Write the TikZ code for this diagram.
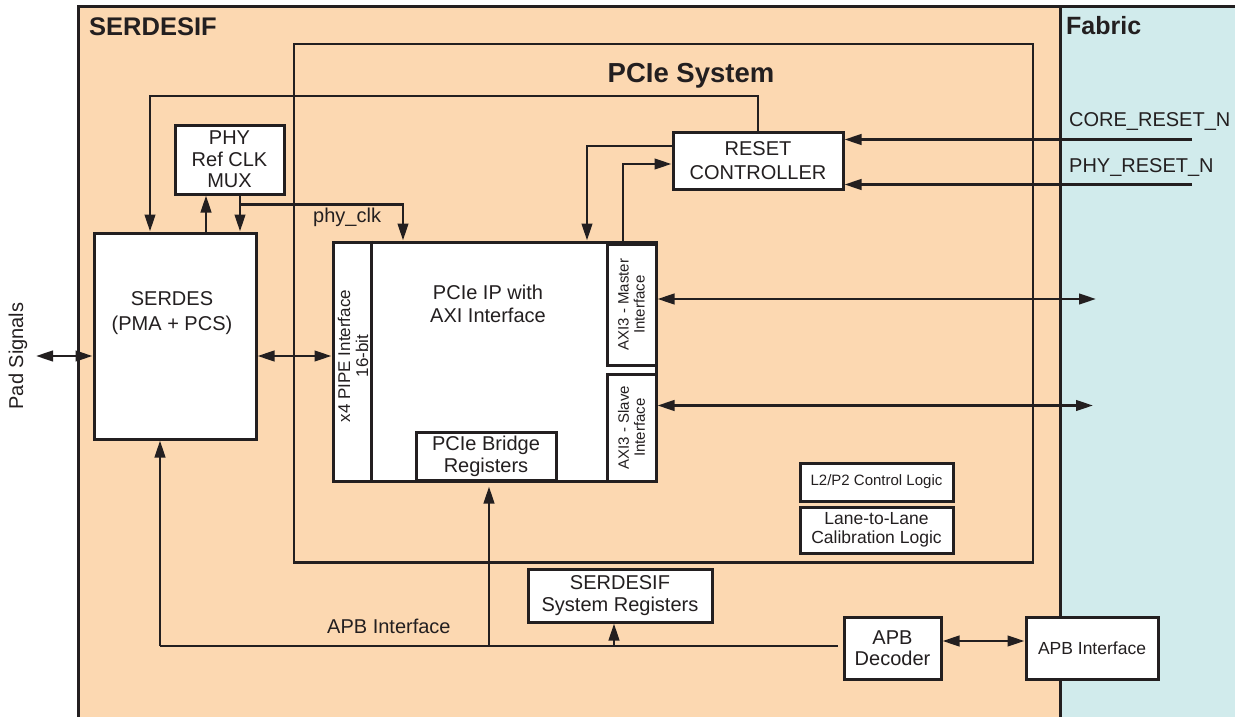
\documentclass[tikz,border=0pt]{standalone}
\usepackage{fontspec}
\setmainfont{Liberation Sans}
\usetikzlibrary{arrows.meta,calc}
\definecolor{peach}{HTML}{FCD8B1}
\definecolor{fabricblue}{HTML}{D1EBEC}
\definecolor{ink}{HTML}{231F20}
\begin{document}
\begin{tikzpicture}[x=1pt,y=-1pt,
  font=\fontsize{20}{22}\selectfont,
  blk/.style={draw=ink, line width=3pt, fill=white, inner sep=0pt, align=center, text=ink},
  wire/.style={draw=ink, line width=2.6pt},
  tip/.tip={Triangle[length=17pt,width=10.5pt]},
  arr/.style={wire, -tip},
  dbl/.style={wire, tip-tip},
  title/.style={font=\fontsize{25}{30}\selectfont\bfseries, text=ink, inner sep=0pt},
  lbl/.style={text=ink, inner sep=0pt, align=center},
]
\useasboundingbox (0,0) rectangle (1235,717);

% regions
\fill[peach] (78,7) rectangle (1060,720);
\fill[fabricblue] (1060,7) rectangle (1238,720);
\draw[ink, line width=3pt] (78,720) -- (78,7) -- (1238,7);
\draw[ink, line width=3pt] (1060,7) -- (1060,720);

\node[title, font=\fontsize{25.5}{30}\selectfont\bfseries, anchor=base west] (serdesif) at (89,35.7) {SERDESIF};
\node[title, anchor=base west] (fabric) at (1066,35) {Fabric};

% PCIe system container
\node[draw=ink, line width=2.8pt, inner sep=0pt, minimum width=739, minimum height=518.5] (pciesys) at (663.5,303.25) {};
\node[title, font=\fontsize{27.5}{30}\selectfont\bfseries, anchor=base] (pcietitle) at (691,83) {PCIe System};

% blocks
\node[blk, minimum width=109, minimum height=69, font=\fontsize{20}{21.5}\selectfont] (mux) at (229.5,159.5) {PHY\\Ref CLK\\MUX};
\node[blk, minimum width=162, minimum height=206] (serdes) at (175,336) {};
\node[lbl, font=\fontsize{20}{25}\selectfont] (serdestext) at (172,313) {SERDES\\(PMA + PCS)};

\node[blk, minimum width=323, minimum height=239] (pcieip) at (494.5,361.5) {};
\draw[wire] ([xshift=40]pcieip.north west) -- ([xshift=40]pcieip.south west);
\node[lbl, rotate=90, font=\fontsize{17}{18}\selectfont] (pipe) at (353,356) {x4 PIPE Interface\\16-bit};
\node[lbl, font=\fontsize{20}{23.5}\selectfont] (iptext) at (488,304) {PCIe IP with\\AXI Interface};

\node[blk, minimum width=49, minimum height=121] (master) at (631.5,304.5) {};
\node[lbl, rotate=90, font=\fontsize{15}{16}\selectfont] (mastertext) at (master) {AXI3 - Master\\Interface};
\node[blk, minimum width=49, minimum height=107] (slave) at (631.5,427.5) {};
\node[lbl, rotate=90, font=\fontsize{15}{16}\selectfont] (slavetext) at (slave) {AXI3 - Slave\\Interface};

\node[blk, minimum width=140, minimum height=48, font=\fontsize{20}{22}\selectfont] (bridge) at (486,456) {PCIe Bridge\\Registers};

\node[blk, minimum width=170, minimum height=57, font=\fontsize{20}{23.3}\selectfont] (reset) at (758,160.5) {RESET\\CONTROLLER};

\node[blk, minimum width=153, minimum height=38, font=\fontsize{15}{17}\selectfont] (l2p2) at (876.5,482) {L2/P2 Control Logic};
\node[blk, minimum width=153, minimum height=46, font=\fontsize{17.5}{18.5}\selectfont] (lane) at (876.5,530) {Lane-to-Lane\\Calibration Logic};

\node[blk, minimum width=184, minimum height=53, font=\fontsize{20}{22}\selectfont] (sysreg) at (620,595.5) {SERDESIF\\System Registers};
\node[blk, minimum width=97, minimum height=62, font=\fontsize{20}{21}\selectfont] (apbdec) at (892.5,648) {APB\\Decoder};
\node[blk, minimum width=132, minimum height=62, font=\fontsize{17.5}{20}\selectfont] (apbif) at (1092,648) {APB Interface};

% reference points for free wire ends
\coordinate (loop) at (150,96);
\coordinate (clk) at (240,204.5);
\coordinate (pad) at (36,356);
\coordinate (core) at (1192,139.5);
\coordinate (phyrst) at (1192,184.5);
\coordinate (mout) at (1096,299);
\coordinate (sout) at (1093,405.5);
\coordinate (bus) at (160,646);

% reset controller loop back to SERDES
\draw[arr] (reset.north) |- (loop) -- (serdes.north -| loop);

% reference clock mux
\draw[arr] ([xshift=31]serdes.north) -- ([xshift=31]serdes.north |- mux.south);
\draw[arr] ([xshift=10.5]mux.south) -- ([xshift=10.5]mux.south |- serdes.north);
\draw[arr] (clk) -| ([xshift=-91.5]pcieip.north);
\node[lbl, anchor=base west] (clklbl) at (313,222) {phy\_clk};

% pad signals and PIPE link
\node[lbl, rotate=90] (padtext) at (18,356) {Pad Signals};
\draw[dbl] (pad) -- (pad -| serdes.west);
\draw[dbl] (pad -| serdes.east) -- (pad -| pcieip.west);

% resets
\draw[arr] ([yshift=14.5]reset.west) -| ([xshift=92.5]pcieip.north);
\draw[arr] ([xshift=128.5]pcieip.north) |- ([yshift=-3.5]reset.west);
\draw[arr] (core) -- (core -| reset.east);
\draw[arr] (phyrst) -- (phyrst -| reset.east);
\node[lbl, anchor=base west] (corelbl) at (1069,126.7) {CORE\_RESET\_N};
\node[lbl, anchor=base west] (phylbl) at (1069,172.7) {PHY\_RESET\_N};

% AXI links to the fabric
\draw[dbl] (mout -| master.east) -- (mout);
\draw[dbl] (sout -| slave.east) -- (sout);

% APB bus
\draw[wire] (bus) -- ([xshift=-5]bus -| apbdec.west);
\draw[arr] (bus) -- (bus |- serdes.south);
\draw[arr, shorten >=4pt] ([xshift=3]bus -| bridge.south) -- ([xshift=3]bridge.south |- pcieip.south);
\draw[arr] ([xshift=-6]bus -| sysreg.south) -- ([xshift=-6]sysreg.south);
\node[lbl, anchor=base west] (buslbl) at (327,633) {APB Interface};
\draw[dbl] ([yshift=7]apbdec.east) -- ([yshift=7]apbif.west);
\end{tikzpicture}
\end{document}
